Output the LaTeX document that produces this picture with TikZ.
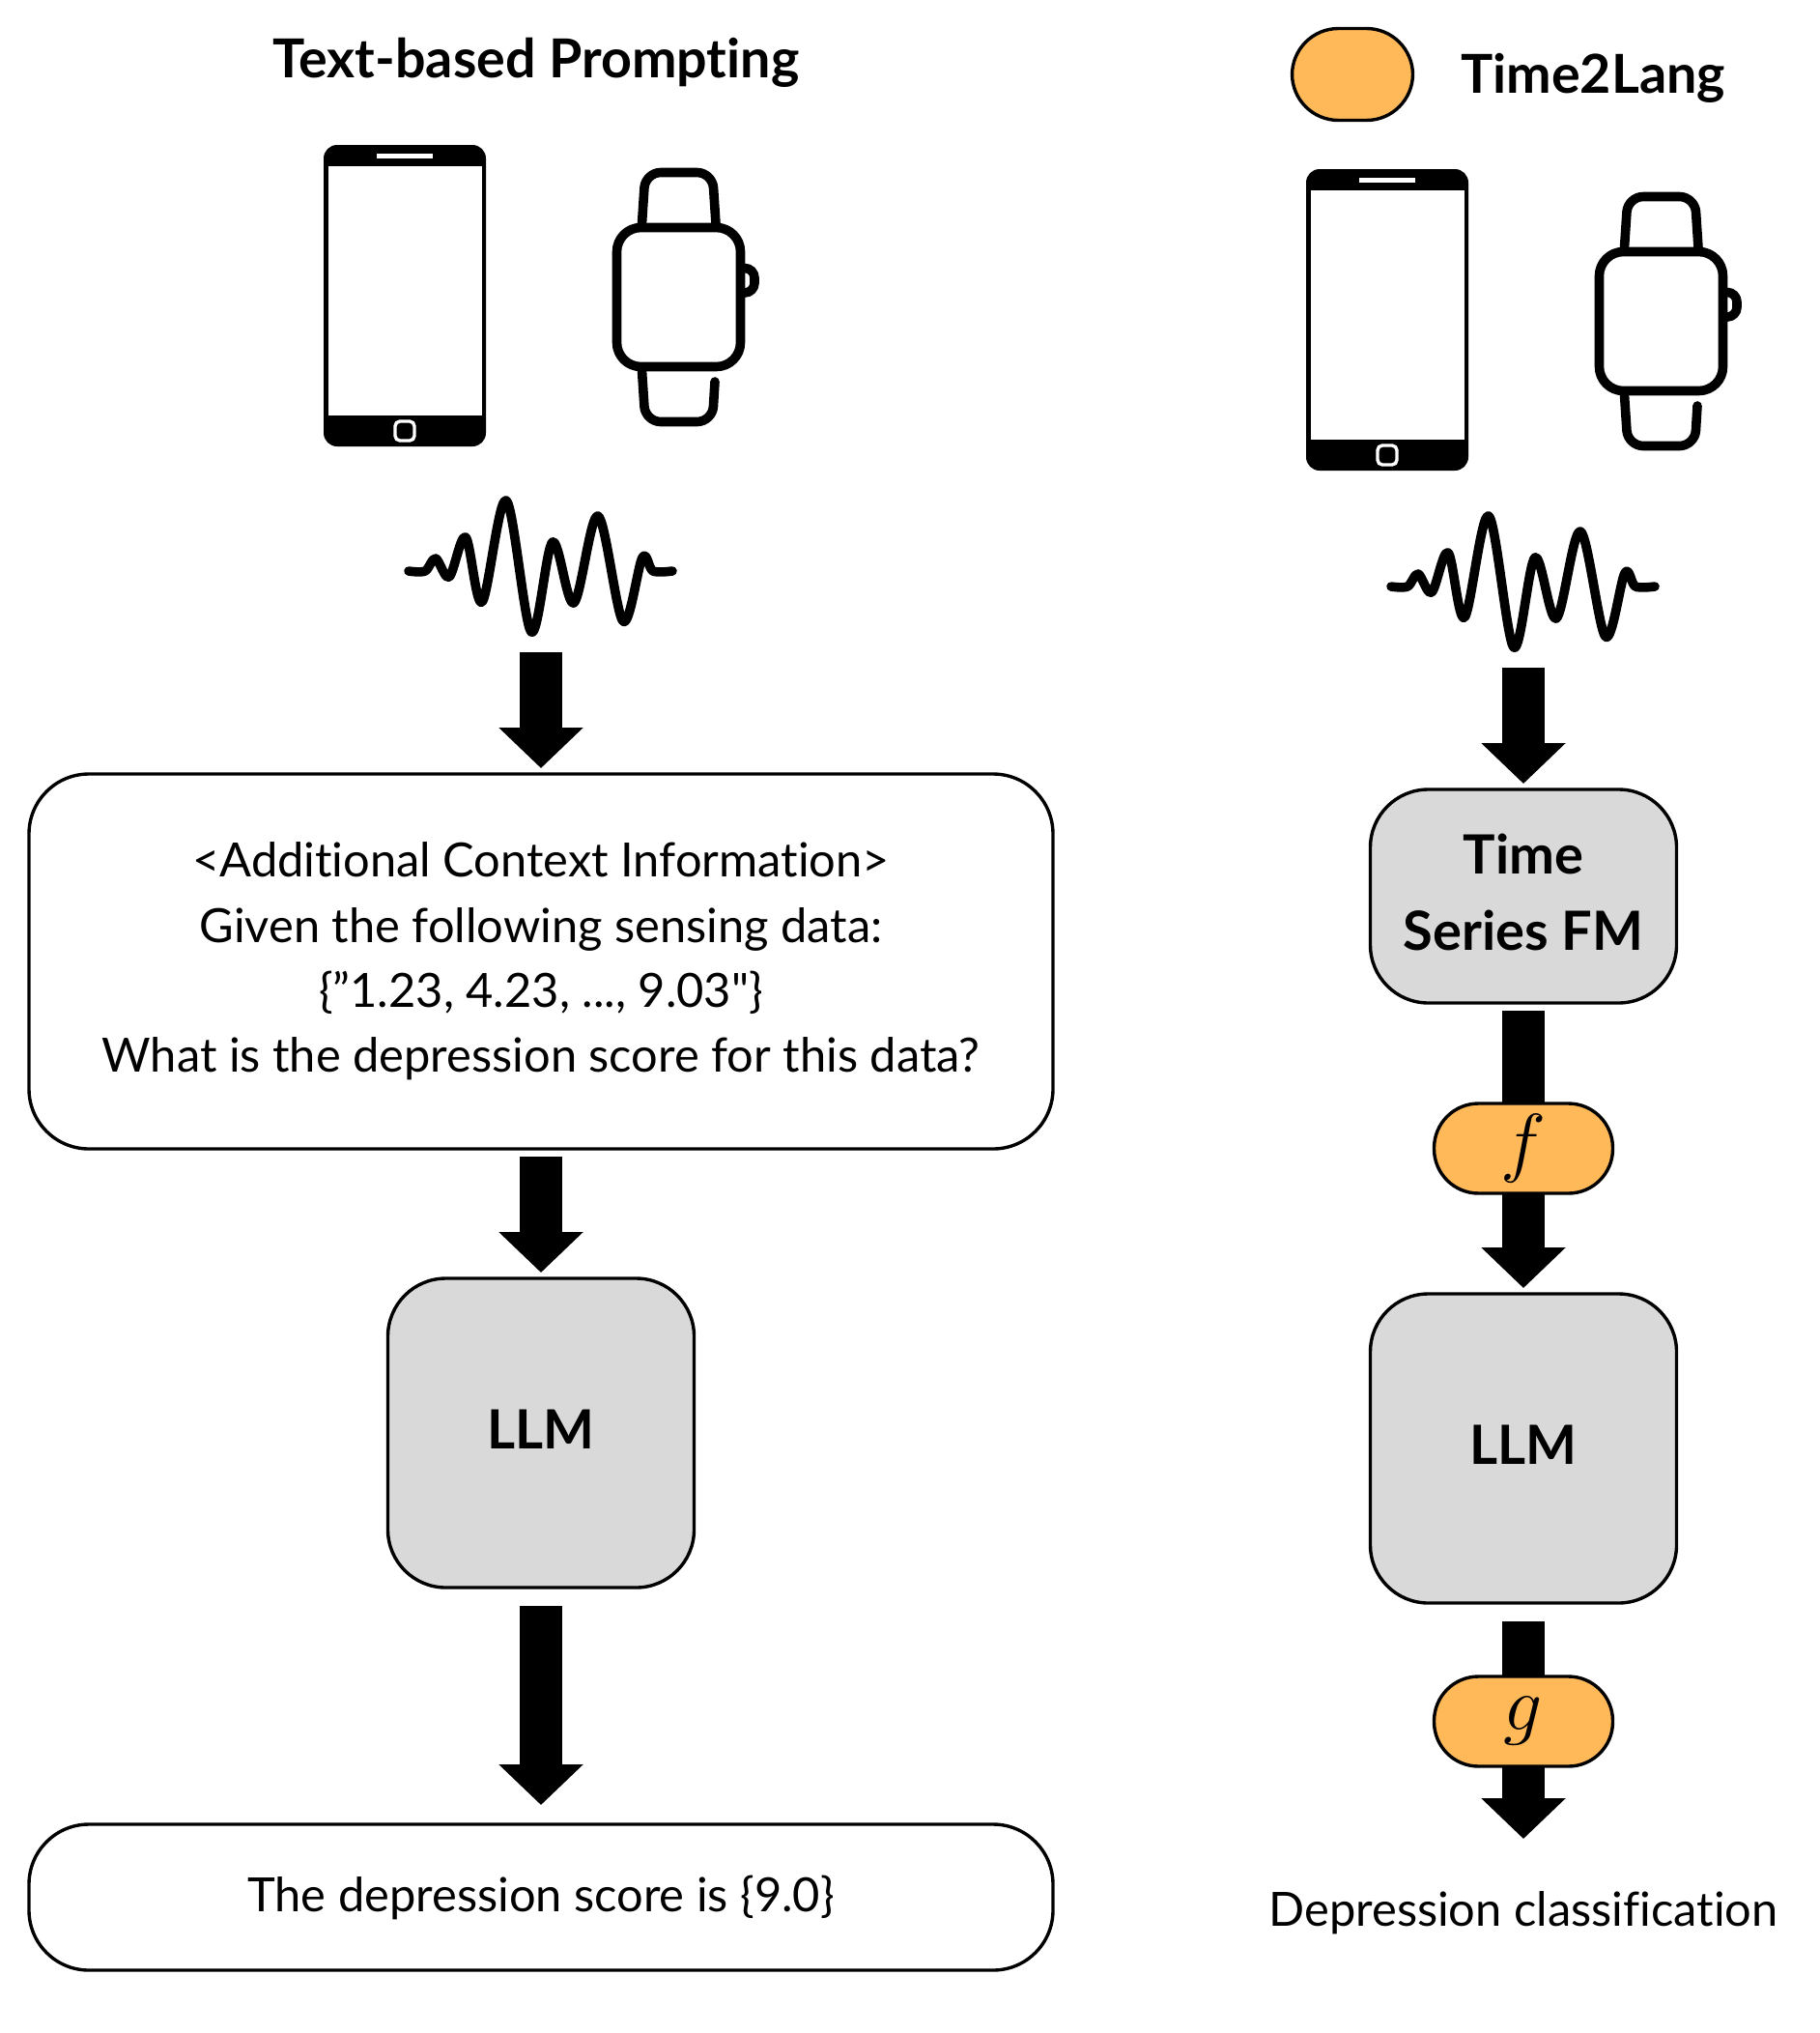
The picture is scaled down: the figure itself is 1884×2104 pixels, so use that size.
\documentclass[tikz,border=0pt]{standalone}
\usepackage{fontspec}
\setmainfont{Lato}[Ligatures={TeXOff,NoCommon}]
\usetikzlibrary{positioning, arrows.meta, backgrounds}
\usepackage{xcolor}
\definecolor{modelgray}{HTML}{D9D9D9}
\definecolor{langorange}{HTML}{FFB959}
\tikzset{
  base/.style={draw=black, align=center, inner sep=0pt, outer sep=0pt, line width=1.7pt},
  textbox/.style={base, fill=white, rounded corners=31pt, minimum width=530pt,
                  font=\fontsize{24.4}{33.7}\selectfont},
  modelbox/.style={base, fill=modelgray, rounded corners=30pt, minimum width=158.5pt,
                   text depth=4pt, font=\fontsize{28}{39.5}\selectfont\bfseries},
  pill/.style={base, fill=langorange, rounded corners=23pt,
               minimum width=92.5pt, minimum height=46.5pt},
  title/.style={inner sep=0pt, font=\fontsize{27.8}{30}\selectfont\bfseries},
  bigarrow/.style={-{Triangle[length=21pt, width=42.5pt]}, draw=black, line width=22pt,
                   shorten <=4pt, shorten >=3pt},
  devline/.style={draw=black, line width=4.8pt, line cap=round, line join=round},
  %% handset: origin at its top left corner
  phone/.pic={
    \fill[black, rounded corners=7pt] (0,0) rectangle (168,312);
    \fill[white] (5,22) rectangle (164,280);
    \fill[white] (55,9) rectangle (113,14);
    \draw[white, line width=1.7pt, rounded corners=2.5pt] (74,286) rectangle (94,306);
  },
  %% wrist watch: origin at the top left corner of its case
  smartwatch/.pic={
    \draw[devline, rounded corners=12.5pt] (0,0) rectangle (128,144);
    \draw[devline, rounded corners=8pt] (26,-4) -- (29.5,-57) -- (99,-57) -- (102.5,-4);
    \draw[devline, rounded corners=8pt] (26,148) -- (29.5,201) -- (99,201) -- (101.5,159.5);
    \draw[devline, rounded corners=5pt, line cap=butt] (128,42) -- (142.5,42) -- (142.5,67.5) -- (128,67.5);
  },
  %% signal trace: origin at its left end
  wave/.pic={
    \draw[devline] plot[smooth, tension=0.55] coordinates {
      (0,0) (17,0) (28,-13) (42,6) (59,-35) (76,32) (101,-73) (127,63)
      (149,-30) (171,33) (196,-57) (222,52) (242,-14) (253,0) (273,0)};
  },
}

\begin{document}
\begin{tikzpicture}[x=0.5pt, y=-0.5pt]

\useasboundingbox (0,0) rectangle (1884,2104);

%% ====================  LEFT COLUMN  ====================

\node[title] (text_title) at (555,65) {Text-based Prompting};

\pic at (335,150) {phone};
\pic at (638.5,235.5) {smartwatch};
\pic at (423,591) {wave};
\coordinate (l_wave) at (560,667);

\node[textbox, minimum height=194pt] (l_prompt) at (560,995)
  {<Additional Context Information>\\Given the following sensing data:\\\{”1.23, 4.23, ..., 9.03"\}\\What is the depression score for this data?};
\node[modelbox, minimum height=160pt, below=67pt of l_prompt] (l_llm) {LLM};
\node[textbox, minimum height=75.5pt, below=122.5pt of l_llm] (l_out) {The depression score is \{9.0\}};

%% ====================  RIGHT COLUMN  ====================

\node[pill, rounded corners=24pt, minimum width=62.5pt, minimum height=47.5pt] (r_key) at (1400,77) {};
\node[title, anchor=west] (r_title) at (1512,81) {Time2Lang};

\pic at (1352,175) {phone};
\pic at (1655.5,260.5) {smartwatch};
\pic at (1440,607) {wave};
\coordinate (r_wave) at (1577,683);

\node[modelbox, minimum height=110.5pt] (r_fm) at (1577,927.5) {Time\\Series FM};
\node[pill, below=52pt of r_fm] (r_f) {\scalebox{1.6}{\fontsize{24.88}{30}\selectfont$f$}};
\node[modelbox, minimum height=160pt, below=52pt of r_f] (r_llm) {LLM};
\node[pill, below=38pt of r_llm] (r_g) {\scalebox{1.6}{\fontsize{24.88}{30}\selectfont$g$}};
\coordinate (r_end) at (1577,1903);
\node[inner sep=0pt, font=\fontsize{24.4}{33.7}\selectfont] (r_out) at (1577,1980) {Depression classification};

%% ====================  ARROWS  ====================

%% Text-based track
\draw[bigarrow] (l_wave) -- (l_prompt.north);
\draw[bigarrow] (l_prompt) -- (l_llm);
\draw[bigarrow, shorten <=9.5pt, shorten >=10pt] (l_llm) -- (l_out);

%% Time2Lang track, passing under the pills
\begin{scope}[on background layer]
\draw[bigarrow] (r_wave) -- (r_fm.north);
\draw[bigarrow] (r_fm) -- (r_llm);
\draw[bigarrow, shorten <=9.5pt, shorten >=0pt] (r_llm) -- (r_end);
\end{scope}

\end{tikzpicture}
\end{document}
